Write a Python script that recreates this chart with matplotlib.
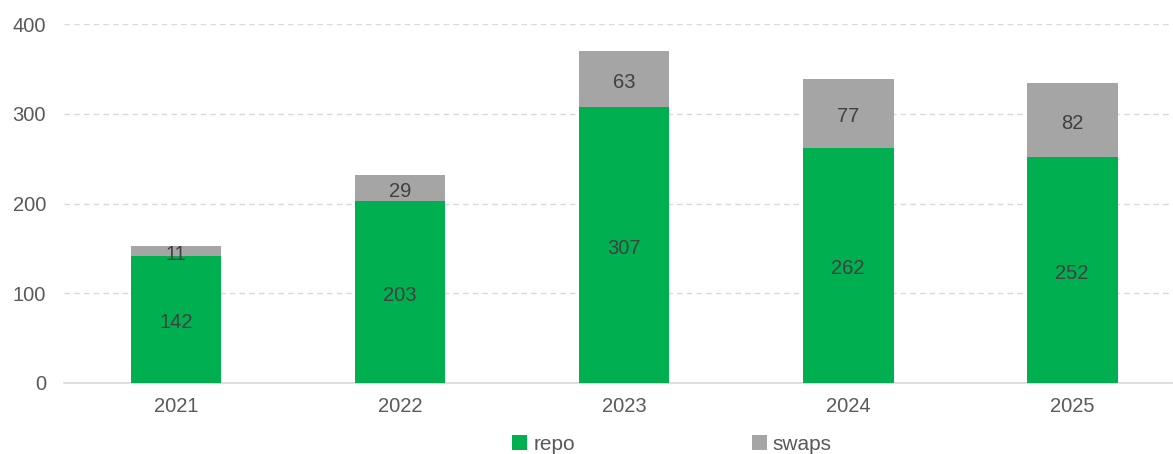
import numpy as np
import matplotlib
matplotlib.use("Agg")
import matplotlib.pyplot as plt

plt.rcParams["font.family"] = ["Liberation Sans", "DejaVu Sans"]

years = ["2021", "2022", "2023", "2024", "2025"]
repo = [142, 203, 307, 262, 252]
swaps = [11, 29, 63, 77, 82]

GREEN = "#00AF50"
GRAY = "#A5A5A5"
TEXT = "#595959"
LABEL = "#404040"

fig = plt.figure(figsize=(11.73, 4.54), dpi=100)
ax = fig.add_axes([64 / 1173, 71 / 454, 1 - 64 / 1173, 359 / 454])

x = np.arange(len(years))
w = 0.405
b1 = ax.bar(x, repo, w, color=GREEN, label="repo", zorder=3)
b2 = ax.bar(x, swaps, w, bottom=repo, color=GRAY, label="swaps", zorder=3)

# segment values, nudged a little below the middle of each segment
for bars, vals in [(b1, repo), (b2, swaps)]:
    for rect, v in zip(bars, vals):
        cx = rect.get_x() + rect.get_width() / 2
        cy = rect.get_y() + rect.get_height() / 2
        ax.annotate(str(v), (cx, cy), xytext=(0, -2.5), textcoords="offset points",
                    ha="center", va="center", fontsize=14.5, color=LABEL, zorder=4)

ax.set_ylim(0, 400)
ax.set_yticks([0, 100, 200, 300, 400])
ax.set_xlim(-0.5, 4.45)
ax.set_xticks(x)
ax.set_xticklabels(years)
ax.tick_params(axis="both", length=0, labelsize=14.5, colors=TEXT)
ax.tick_params(axis="x", pad=10)
ax.tick_params(axis="y", pad=13)

ax.yaxis.grid(True, linestyle=(0, (4, 3)), color="#D9D9D9", linewidth=1, zorder=0)
for s in ["top", "right", "left"]:
    ax.spines[s].set_visible(False)
ax.spines["bottom"].set_color("#D9D9D9")
ax.spines["bottom"].set_linewidth(1.2)

fig.legend(handles=[b1, b2], labels=["repo", "swaps"], loc="center",
           bbox_to_anchor=(0.573, 0.022), ncol=2, frameon=False,
           fontsize=15, labelcolor=TEXT, handlelength=0.7, handleheight=0.7,
           handletextpad=0.3, columnspacing=8.5)

fig.savefig("out.png", dpi=100)
